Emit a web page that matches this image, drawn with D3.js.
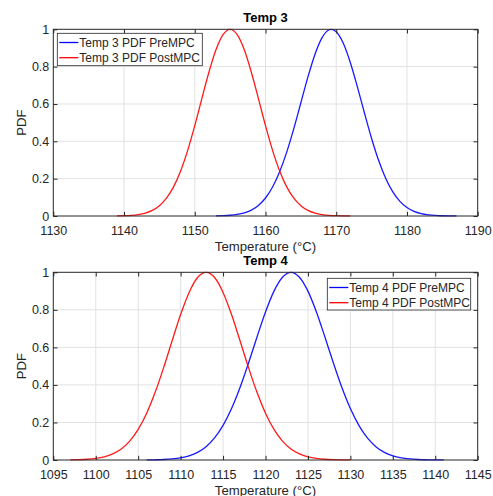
<!DOCTYPE html>
<html><head><meta charset="utf-8">
<script src="https://cdn.jsdelivr.net/npm/d3@7/dist/d3.min.js"></script>
<style>body{margin:0;background:#fff}svg{display:block}</style>
</head><body>
<svg id="chart" width="493" height="496"></svg>
<script>
// ---------- data ----------
const t3PreT   = [1153,1154,1155,1156,1157,1158,1159,1160,1161,1162,1163,1164,1165,1166,1167,1168,1169,1169.3,1170,1171,1172,1173,1174,1175,1176,1177,1178,1179,1180,1181,1182,1183,1184,1185,1186,1187];
const t3PrePdf = [0.0008,0.0018,0.004,0.0084,0.0167,0.0317,0.0568,0.0964,0.1552,0.2367,0.3419,0.4679,0.6065,0.7449,0.8667,0.9553,0.9976,1,0.9868,0.9249,0.8211,0.6906,0.5503,0.4154,0.297,0.2012,0.1291,0.0785,0.0452,0.0247,0.0128,0.0063,0.0029,0.0013,0.0005,0.0002];
const t3PostT   = [1139,1140,1141,1142,1143,1144,1145,1146,1147,1148,1149,1150,1151,1152,1153,1154,1155,1156,1157,1158,1159,1160,1161,1162,1163,1164,1165,1166,1167,1168,1169,1170,1171,1172];
const t3PostPdf = [0.0006,0.0015,0.0034,0.0074,0.0153,0.0298,0.0548,0.0952,0.156,0.2411,0.3516,0.4839,0.6285,0.77,0.8904,0.9714,1,0.9714,0.8904,0.77,0.6285,0.4839,0.3516,0.2411,0.156,0.0952,0.0548,0.0298,0.0153,0.0074,0.0034,0.0015,0.0006,0.0002];
const t4PreT   = [1106,1107,1108,1109,1110,1111,1112,1113,1114,1115,1116,1117,1118,1119,1120,1121,1122,1123,1124,1125,1126,1127,1128,1129,1130,1131,1132,1133,1134,1135,1136,1137,1138,1139,1140,1141];
const t4PrePdf = [0.0005,0.0012,0.0026,0.0056,0.0115,0.0223,0.0409,0.0712,0.1176,0.1843,0.274,0.3862,0.5166,0.6552,0.7883,0.8997,0.9739,1,0.9739,0.8997,0.7883,0.6552,0.5166,0.3862,0.274,0.1843,0.1176,0.0712,0.0409,0.0223,0.0115,0.0056,0.0026,0.0012,0.0005,0.0002];
const t4PostT   = [1097,1098,1099,1100,1101,1102,1103,1104,1105,1106,1107,1108,1109,1110,1111,1112,1113,1114,1115,1116,1117,1118,1119,1120,1121,1122,1123,1124,1125,1126,1127,1128,1129,1130];
const t4PostPdf = [0.0007,0.0017,0.0039,0.0083,0.0169,0.0324,0.0587,0.1007,0.163,0.2494,0.3605,0.4923,0.6354,0.7748,0.8928,0.9721,1,0.9721,0.8928,0.7748,0.6354,0.4923,0.3605,0.2494,0.163,0.1007,0.0587,0.0324,0.0169,0.0083,0.0039,0.0017,0.0007,0.0003];

const yTicks   = [0,0.2,0.4,0.6,0.8,1];
const t3XTicks = [1130,1140,1150,1160,1170,1180,1190];
const t4XTicks = [1095,1100,1105,1110,1115,1120,1125,1130,1135,1140,1145];
const titles   = ["Temp 3","Temp 4"];
const legend3  = ["Temp 3 PDF PreMPC","Temp 3 PDF PostMPC"];
const legend4  = ["Temp 4 PDF PreMPC","Temp 4 PDF PostMPC"];
const xLabel   = "Temperature (°C)";
const yLabel   = "PDF";
const seriesColors = ["#0000ff","#ff0000"];

// ---------- drawing ----------
const svg = d3.select("#chart");
const FONT = "'Liberation Sans', Arial, Helvetica, sans-serif";
const AX = "#262626";

const panels = [
  {title: titles[0], xTicks: t3XTicks, legend: legend3,
   series: [[t3PreT,t3PrePdf],[t3PostT,t3PostPdf]],
   box: {l:53.3, r:477.7, t:29.3, b:216},
   leg: {x:57.3, y:33.3, w:145, h:32.4}},
  {title: titles[1], xTicks: t4XTicks, legend: legend4,
   series: [[t4PreT,t4PrePdf],[t4PostT,t4PostPdf]],
   box: {l:53.3, r:477.7, t:272.3, b:460},
   leg: {x:327.3, y:278.3, w:143.4, h:31.7}}
];

panels.forEach(p => {
  const b = p.box;
  const x = d3.scaleLinear().domain([p.xTicks[0], p.xTicks[p.xTicks.length-1]]).range([b.l, b.r]);
  const y = d3.scaleLinear().domain([0,1]).range([b.b, b.t]);
  const g = svg.append("g");

  // grid
  g.append("g").selectAll("line").data(p.xTicks.slice(1,-1)).join("line")
    .attr("x1", d=>x(d)).attr("x2", d=>x(d)).attr("y1", b.t).attr("y2", b.b)
    .attr("stroke", "#e2e2e2").attr("stroke-width", 1);
  g.append("g").selectAll("line").data(yTicks.slice(1,-1)).join("line")
    .attr("y1", d=>y(d)).attr("y2", d=>y(d)).attr("x1", b.l).attr("x2", b.r)
    .attr("stroke", "#e2e2e2").attr("stroke-width", 1);

  // curves
  const line = d3.line().x(d=>x(d[0])).y(d=>y(d[1])).curve(d3.curveMonotoneX);
  p.series.forEach((s,i) => {
    const pts = s[0].map((t,k)=>[t, s[1][k]]);
    g.append("path").datum(pts).attr("d", line)
      .attr("fill","none").attr("stroke", seriesColors[i]).attr("stroke-width", 1.3)
      .attr("stroke-opacity", 0.9);
  });

  // axes (ticks inward, box on)
  const tl = 4.2;
  const xb = d3.axisBottom(x).tickValues(p.xTicks).tickSize(-tl).tickPadding(10).tickFormat(d3.format("d"));
  const xt = d3.axisTop(x).tickValues(p.xTicks).tickSize(-tl).tickFormat("");
  const yl = d3.axisLeft(y).tickValues(yTicks).tickSize(-tl).tickPadding(4).tickFormat(d=>String(d));
  const yr = d3.axisRight(y).tickValues(yTicks).tickSize(-tl).tickFormat("");
  [[xb,`translate(0,${b.b})`],[xt,`translate(0,${b.t})`],[yl,`translate(${b.l},0)`],[yr,`translate(${b.r},0)`]].forEach(([a,tr])=>{
    const ag = g.append("g").attr("transform", tr).call(a);
    ag.select(".domain").remove();
    ag.selectAll(".tick line").attr("stroke", AX);
    ag.selectAll("text").attr("fill", AX).attr("font-family", FONT).attr("font-size", 12.5);
  });
  g.append("rect").attr("x", b.l).attr("y", b.t).attr("width", b.r-b.l).attr("height", b.b-b.t)
    .attr("fill","none").attr("stroke", AX).attr("stroke-width", 1);

  // title
  g.append("text").attr("x", (b.l+b.r)/2).attr("y", b.t-7).attr("text-anchor","middle")
    .attr("font-family", FONT).attr("font-size", 13).attr("font-weight","bold").attr("fill","#000")
    .text(p.title);
  // x label
  g.append("text").attr("x", (b.l+b.r)/2).attr("y", b.b+34.5).attr("text-anchor","middle")
    .attr("font-family", FONT).attr("font-size", 13.2).attr("fill", AX).text(xLabel);
  // y label
  g.append("text").attr("transform", `translate(${b.l-27},${(b.t+b.b)/2}) rotate(-90)`)
    .attr("text-anchor","middle").attr("font-family", FONT).attr("font-size", 13.2).attr("fill", AX).text(yLabel);

  // legend
  const L = p.leg;
  const lg = g.append("g");
  lg.append("rect").attr("x", L.x).attr("y", L.y).attr("width", L.w).attr("height", L.h)
    .attr("fill","#fff").attr("stroke", AX).attr("stroke-width", 0.8);
  p.legend.forEach((txt,i) => {
    const cy = L.y + 9.2 + i*15.2;
    lg.append("line").attr("x1", L.x+2).attr("x2", L.x+21).attr("y1", cy).attr("y2", cy)
      .attr("stroke", seriesColors[i]).attr("stroke-width", 1.3);
    lg.append("text").attr("x", L.x+22).attr("y", cy+4.2).attr("font-family", FONT).attr("font-size", 12)
      .attr("fill", AX).text(txt);
  });
});
</script>
</body></html>
